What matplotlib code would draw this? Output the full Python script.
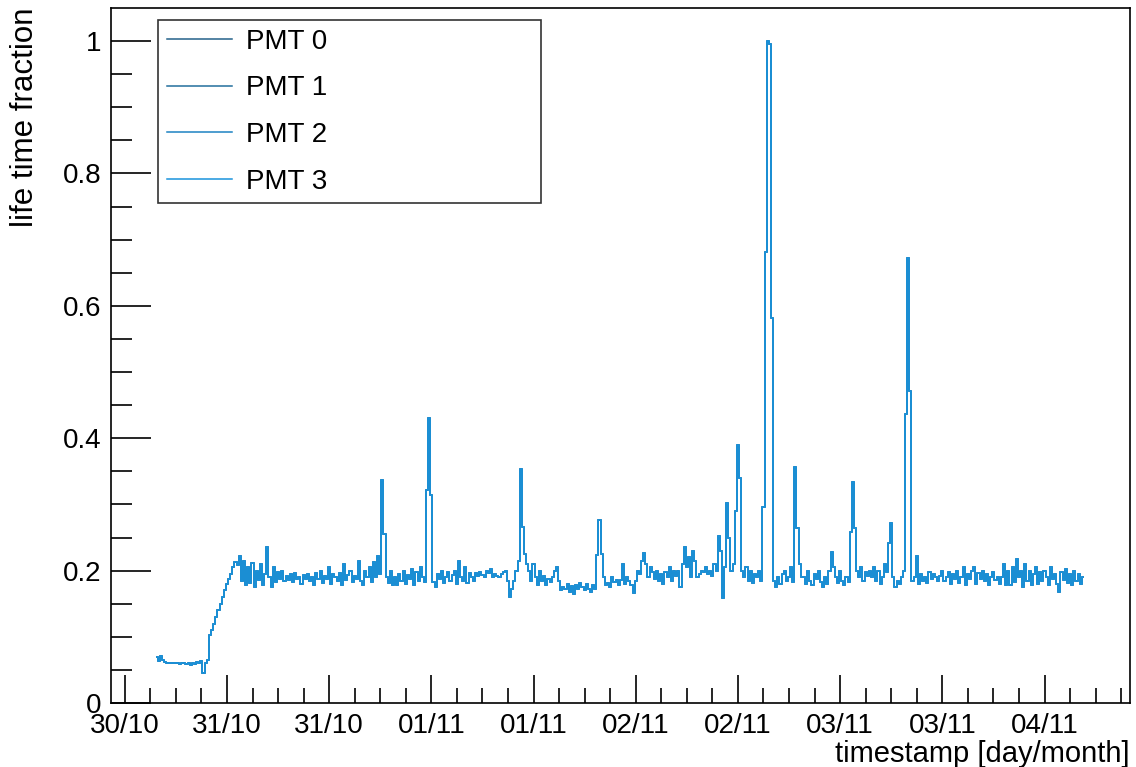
import numpy as np
import matplotlib
matplotlib.use("Agg")
import matplotlib.pyplot as plt
import matplotlib.dates as mdates

# life time fraction, one value every 15 minutes starting 30/10 15:45
t_start = np.datetime64("2018-10-30T15:45")
bin_minutes = 15
life_frac = [
    # 30/10 15:45 - 19:45
    0.070, 0.064, 0.071, 0.065, 0.062, 0.060, 0.060, 0.061, 0.060, 0.060, 0.060, 0.059, 0.060, 0.060, 0.059, 0.060,
    0.058, 0.061, 0.059, 0.062, 0.060, 0.063, 0.045, 0.060, 0.065, 0.103, 0.110, 0.120, 0.130, 0.140, 0.150, 0.160,
    0.170, 0.180, 0.187, 0.195, 0.205, 0.213, 0.208, 0.222, 0.185, 0.215, 0.178, 0.205, 0.182, 0.212, 0.176, 0.200,
    0.186, 0.210, 0.178, 0.195, 0.236, 0.190, 0.176, 0.205, 0.183, 0.198, 0.188, 0.200, 0.185, 0.192, 0.186, 0.195,
    0.183, 0.196, 0.188, 0.190, 0.180, 0.193, 0.187, 0.195, 0.185, 0.190, 0.178, 0.196, 0.187, 0.200, 0.182, 0.192,
    0.188, 0.205, 0.180, 0.195, 0.190, 0.185, 0.197, 0.178, 0.210, 0.186, 0.193, 0.200, 0.183, 0.192, 0.188, 0.215,
    0.185, 0.178, 0.200, 0.190, 0.205, 0.183, 0.213, 0.190, 0.222, 0.195, 0.337, 0.255, 0.190, 0.182, 0.200, 0.178,
    0.190, 0.178, 0.195, 0.185, 0.200, 0.180, 0.193, 0.187, 0.203, 0.178, 0.198, 0.185, 0.205, 0.190, 0.183, 0.322,
    0.431, 0.315, 0.183, 0.176, 0.195, 0.188, 0.200, 0.182, 0.190, 0.198, 0.185, 0.193, 0.200, 0.180, 0.214, 0.190,
    0.185, 0.205, 0.182, 0.197, 0.190, 0.185, 0.196, 0.192, 0.198, 0.194, 0.190, 0.200, 0.196, 0.203, 0.190, 0.195,
    0.192, 0.190, 0.195, 0.198, 0.200, 0.185, 0.160, 0.172, 0.185, 0.200, 0.215, 0.354, 0.266, 0.225, 0.210, 0.200,
    0.185, 0.210, 0.190, 0.178, 0.200, 0.185, 0.192, 0.178, 0.188, 0.183, 0.190, 0.200, 0.205, 0.185, 0.170, 0.175,
    0.172, 0.180, 0.168, 0.177, 0.165, 0.178, 0.172, 0.182, 0.175, 0.170, 0.180, 0.173, 0.168, 0.178, 0.172, 0.224,
    0.276, 0.225, 0.190, 0.178, 0.182, 0.176, 0.190, 0.183, 0.186, 0.178, 0.186, 0.210, 0.180, 0.190, 0.185, 0.178,
    0.166, 0.185, 0.200, 0.195, 0.215, 0.227, 0.210, 0.190, 0.205, 0.198, 0.188, 0.200, 0.185, 0.195, 0.180, 0.198,
    0.190, 0.205, 0.185, 0.200, 0.192, 0.200, 0.176, 0.210, 0.236, 0.205, 0.220, 0.190, 0.230, 0.215, 0.190, 0.195,
    0.200, 0.198, 0.205, 0.195, 0.200, 0.192, 0.210, 0.200, 0.253, 0.230, 0.159, 0.205, 0.302, 0.250, 0.200, 0.210,
    0.290, 0.390, 0.340, 0.200, 0.190, 0.205, 0.185, 0.200, 0.182, 0.195, 0.190, 0.200, 0.185, 0.296, 0.681, 1.000,
    0.995, 0.581, 0.185, 0.176, 0.190, 0.180, 0.195, 0.200, 0.185, 0.190, 0.205, 0.183, 0.356, 0.265, 0.210, 0.190,
    0.190, 0.180, 0.200, 0.185, 0.178, 0.195, 0.188, 0.200, 0.183, 0.175, 0.190, 0.180, 0.200, 0.228, 0.205, 0.190,
    0.182, 0.200, 0.185, 0.178, 0.190, 0.183, 0.259, 0.334, 0.265, 0.200, 0.190, 0.205, 0.185, 0.198, 0.192, 0.200,
    0.190, 0.205, 0.185, 0.200, 0.180, 0.190, 0.210, 0.198, 0.242, 0.272, 0.190, 0.175, 0.185, 0.180, 0.190, 0.200,
    0.436, 0.673, 0.471, 0.185, 0.190, 0.222, 0.180, 0.195, 0.185, 0.190, 0.182, 0.198, 0.188, 0.195, 0.190, 0.185,
    0.192, 0.200, 0.185, 0.190, 0.198, 0.180, 0.195, 0.187, 0.200, 0.182, 0.190, 0.205, 0.178, 0.195, 0.188, 0.200,
    0.205, 0.180, 0.196, 0.188, 0.200, 0.185, 0.195, 0.178, 0.190, 0.198, 0.186, 0.190, 0.180, 0.190, 0.210, 0.178,
    0.200, 0.178, 0.205, 0.183, 0.218, 0.190, 0.200, 0.175, 0.210, 0.185, 0.200, 0.178, 0.195, 0.205, 0.180, 0.198,
    0.185, 0.200, 0.190, 0.178, 0.205, 0.188, 0.195, 0.180, 0.168, 0.198, 0.186, 0.203, 0.182, 0.195, 0.178, 0.200,
    0.185, 0.195, 0.180, 0.190,
]

pmt_labels = ["PMT 0", "PMT 1", "PMT 2", "PMT 3"]
pmt_colors = ["#24628a", "#236f9c", "#1d82c2", "#1a93dc"]

x_min = np.datetime64("2018-10-30T10:23")
x_max = np.datetime64("2018-11-04T10:02")

times = t_start + np.arange(len(life_frac)) * np.timedelta64(bin_minutes, "m")

plt.rcParams["font.family"] = ["Liberation Sans", "DejaVu Sans"]

fig = plt.figure(figsize=(11.36, 7.67), dpi=100)
ax = fig.add_axes([0.0977, 0.0834, 0.8970, 0.9062])

# all four PMTs share the same trace, later ones drawn on top
for lab, col in zip(pmt_labels, pmt_colors):
    ax.plot(times, life_frac, drawstyle="steps-mid", color=col, lw=1.1, label=lab)

ax.set_xlim(x_min, x_max)
ax.set_ylim(0, 1.05)

ax.xaxis.set_major_locator(mdates.HourLocator(byhour=[0, 12]))
ax.xaxis.set_minor_locator(mdates.HourLocator(byhour=range(0, 24, 3)))
ax.xaxis.set_major_formatter(mdates.DateFormatter("%d/%m"))
ax.set_yticks([0, 0.2, 0.4, 0.6, 0.8, 1.0])
ax.set_yticklabels(["0", "0.2", "0.4", "0.6", "0.8", "1"])
ax.set_yticks(np.arange(0, 1.05, 0.05), minor=True)

ax.tick_params(axis="x", which="major", direction="in", length=20, width=1.2, labelsize=20, pad=7, top=False)
ax.tick_params(axis="x", which="minor", direction="in", length=11, width=1.2, top=False)
ax.tick_params(axis="y", which="major", direction="in", length=29, width=1.2, labelsize=20, pad=7, right=False)
ax.tick_params(axis="y", which="minor", direction="in", length=15, width=1.2, right=False)
for sp in ax.spines.values():
    sp.set_linewidth(1.2)

ax.set_xlabel("timestamp [day/month]", fontsize=21, loc="right", labelpad=1)
ax.set_ylabel("life time fraction", fontsize=22.5, loc="top", labelpad=16)

leg = ax.legend(loc="upper left", bbox_to_anchor=(0.0461, 0.7237, 0.376, 0.259), mode="expand",
                fontsize=20, frameon=True, fancybox=False, borderaxespad=0, borderpad=0.32,
                labelspacing=0.74, handlelength=2.35, handletextpad=0.5)
leg.get_frame().set_edgecolor("black")
leg.get_frame().set_linewidth(1.2)

fig.savefig("out.png", dpi=100)
